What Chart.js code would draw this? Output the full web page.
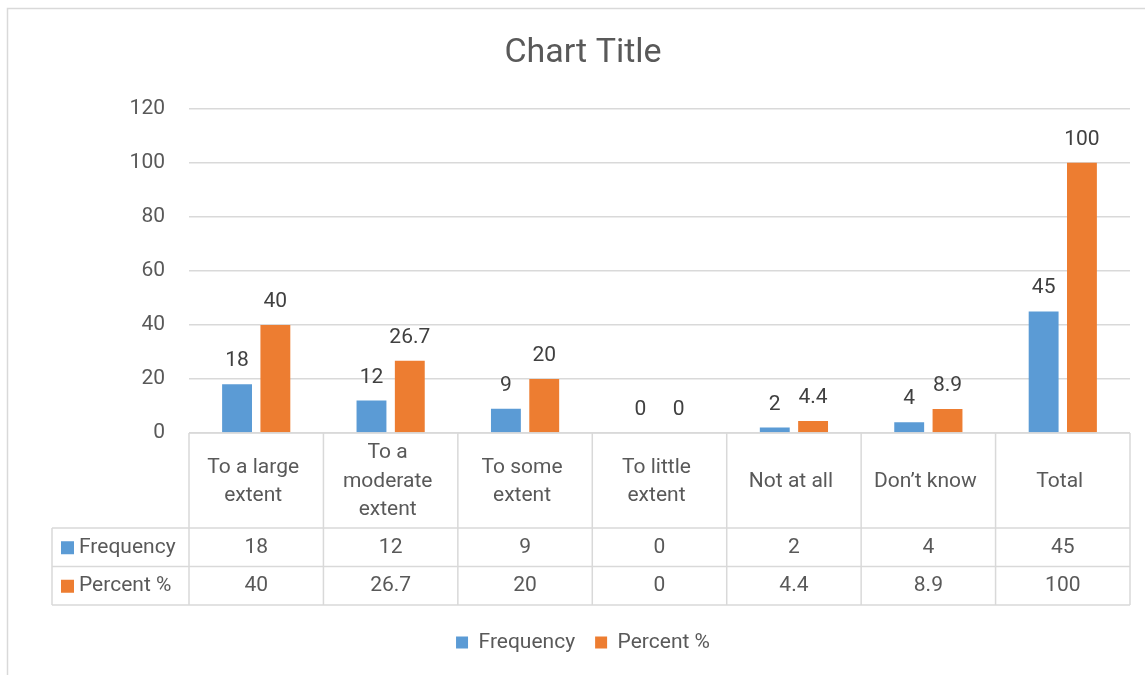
<!DOCTYPE html>
<html>
<head>
<meta charset="utf-8">
<script src="https://cdn.jsdelivr.net/npm/chart.js@4.4.1/dist/chart.umd.min.js"></script>
<style>
  html, body { margin: 0; padding: 0; background: #ffffff; }
  #wrap { width: 1145px; height: 675px; position: relative; }
</style>
</head>
<body>
<div id="wrap"><canvas id="chart" width="1145" height="675"></canvas></div>
<script>
// Categories (each entry is the wrapped header text of a table column)
const categories = [
  ["To a large", "extent"],
  ["To a", "moderate", "extent"],
  ["To some", "extent"],
  ["To little", "extent"],
  ["Not at all"],
  ["Don\u2019t know"],
  ["Total"]
];
const seriesNames = ["Frequency", "Percent %"];
const frequency = [18, 12, 9, 0, 2, 4, 45];
const percent = [40, 26.7, 20, 0, 4.4, 8.9, 100];
const yTickValues = [0, 20, 40, 60, 80, 100, 120];

const FONT = "'Roboto', 'Liberation Sans', sans-serif";
const FS = 21;
const BLUE = "#5B9BD5";
const ORANGE = "#ED7D31";
const TEXT = "#595959";
const LABEL = "#404040";
const LINE = "#D9D9D9";

// Outer frame of the chart object
const framePlugin = {
  id: "frame",
  beforeDraw(chart) {
    const ctx = chart.ctx;
    ctx.save();
    ctx.fillStyle = "#ffffff";
    ctx.fillRect(0, 0, chart.width, chart.height);
    ctx.strokeStyle = LINE;
    ctx.lineWidth = 1.5;
    ctx.beginPath();
    ctx.moveTo(7.5, chart.height);
    ctx.lineTo(7.5, 8.5);
    ctx.lineTo(chart.width, 8.5);
    ctx.stroke();
    ctx.restore();
  }
};

// Value labels above each bar
const valueLabelPlugin = {
  id: "valueLabels",
  afterDatasetsDraw(chart) {
    const ctx = chart.ctx;
    ctx.save();
    ctx.font = FS + "px " + FONT;
    ctx.fillStyle = LABEL;
    ctx.textAlign = "center";
    ctx.textBaseline = "alphabetic";
    chart.data.datasets.forEach((ds, d) => {
      const meta = chart.getDatasetMeta(d);
      meta.data.forEach((bar, i) => {
        ctx.fillText(String(ds.data[i]), bar.x, bar.y - 18);
      });
    });
    ctx.restore();
  }
};

// Data table under the plot area
const dataTablePlugin = {
  id: "dataTable",
  afterDraw(chart) {
    const ctx = chart.ctx;
    const x = chart.scales.x;
    const area = chart.chartArea;
    const n = categories.length;
    const colW = (x.right - x.left) / n;
    const top = area.bottom;
    const headerBottom = top + 95;
    const rowH = 38.5;
    const tableBottom = headerBottom + rowH * 2;
    const labelLeft = 52;

    ctx.save();
    ctx.strokeStyle = LINE;
    ctx.lineWidth = 1.5;
    ctx.beginPath();
    // horizontal rules
    ctx.moveTo(x.left, top); ctx.lineTo(x.right, top);
    for (let r = 0; r <= 2; r++) {
      const yy = headerBottom + rowH * r;
      ctx.moveTo(labelLeft, yy); ctx.lineTo(x.right, yy);
    }
    // vertical rules
    for (let c = 0; c <= n; c++) {
      const xx = x.left + colW * c;
      ctx.moveTo(xx, top); ctx.lineTo(xx, tableBottom);
    }
    ctx.moveTo(labelLeft, headerBottom); ctx.lineTo(labelLeft, tableBottom);
    ctx.stroke();

    ctx.font = FS + "px " + FONT;
    ctx.fillStyle = TEXT;
    ctx.textAlign = "center";
    ctx.textBaseline = "middle";
    const lh = 28.5;
    categories.forEach((lines, i) => {
      const cx = x.getPixelForValue(i) - 3;
      const cy = (top + headerBottom) / 2 + 1;
      const start = cy - (lines.length - 1) * lh / 2;
      lines.forEach((t, k) => ctx.fillText(t, cx, start + k * lh));
    });

    const rows = [frequency, percent];
    const colors = [BLUE, ORANGE];
    rows.forEach((vals, r) => {
      const cy = headerBottom + rowH * r + rowH / 2;
      ctx.fillStyle = colors[r];
      ctx.fillRect(labelLeft + 9, cy - 6, 13, 13);
      ctx.fillStyle = TEXT;
      ctx.textAlign = "left";
      ctx.fillText(seriesNames[r], labelLeft + 27, cy);
      ctx.textAlign = "center";
      vals.forEach((v, i) => ctx.fillText(String(v), x.getPixelForValue(i), cy));
    });
    ctx.restore();
  }
};

new Chart(document.getElementById("chart"), {
  type: "bar",
  data: {
    labels: categories.map(l => l.join(" ")),
    datasets: [
      { label: seriesNames[0], data: frequency, backgroundColor: BLUE },
      { label: seriesNames[1], data: percent, backgroundColor: ORANGE }
    ]
  },
  options: {
    responsive: false,
    animation: false,
    devicePixelRatio: 1,
    layout: { padding: { top: 8, right: 15, bottom: 12, left: 36 } },
    datasets: { bar: { categoryPercentage: 0.57, barPercentage: 0.78 } },
    scales: {
      x: {
        ticks: { display: false },
        grid: { display: false },
        border: { display: false },
        afterFit(scale) { scale.height = 179; }
      },
      y: {
        min: 0,
        max: 120,
        afterBuildTicks(scale) { scale.ticks = yTickValues.map(v => ({ value: v })); },
        ticks: { color: TEXT, font: { family: FONT, size: FS }, padding: 24 },
        grid: { color: LINE, lineWidth: 1.5, drawTicks: false },
        border: { display: false },
        afterFit(scale) { scale.width = 153; }
      }
    },
    plugins: {
      title: {
        display: true,
        text: "Chart Title",
        color: TEXT,
        font: { family: FONT, size: 34, weight: "normal" },
        padding: { top: 25, bottom: 35 }
      },
      legend: {
        position: "bottom",
        labels: {
          color: TEXT,
          font: { family: FONT, size: FS },
          boxWidth: 12,
          boxHeight: 12,
          padding: 20
        }
      },
      tooltip: { enabled: false }
    }
  },
  plugins: [framePlugin, valueLabelPlugin, dataTablePlugin]
});
</script>
</body>
</html>
